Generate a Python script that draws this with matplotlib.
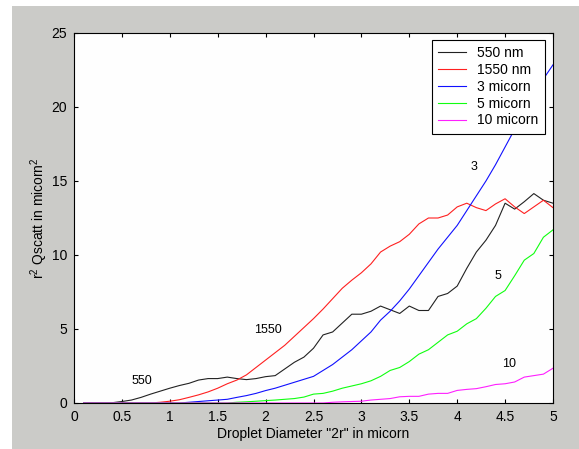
import matplotlib
matplotlib.use("Agg")
import matplotlib.pyplot as plt
from matplotlib.patches import Rectangle

# droplet diameter 2r (micron)
diam = [0.1, 0.2, 0.3, 0.4, 0.5, 0.6, 0.7, 0.8, 0.9, 1.0,
        1.1, 1.2, 1.3, 1.4, 1.5, 1.6, 1.7, 1.8, 1.9, 2.0,
        2.1, 2.2, 2.3, 2.4, 2.5, 2.6, 2.7, 2.8, 2.9, 3.0,
        3.1, 3.2, 3.3, 3.4, 3.5, 3.6, 3.7, 3.8, 3.9, 4.0,
        4.1, 4.2, 4.3, 4.4, 4.5, 4.6, 4.7, 4.8, 4.9, 5.0]

q_550nm = [0, 0, 0, 0.02, 0.1, 0.2, 0.38, 0.6, 0.8, 1.0,
           1.18, 1.33, 1.55, 1.65, 1.65, 1.75, 1.65, 1.58, 1.65, 1.78,
           1.85, 2.3, 2.75, 3.1, 3.7, 4.6, 4.8, 5.4, 6.0, 6.0,
           6.2, 6.55, 6.3, 6.05, 6.55, 6.25, 6.25, 7.2, 7.4, 7.9,
           9.1, 10.2, 11.0, 12.0, 13.5, 13.1, 13.6, 14.15, 13.7, 13.5]

q_1550nm = [0, 0, 0, 0, 0, 0, 0, 0, 0.05, 0.12,
            0.22, 0.38, 0.55, 0.75, 1.0, 1.3, 1.55, 1.9, 2.4, 2.9,
            3.4, 3.9, 4.5, 5.1, 5.7, 6.35, 7.05, 7.75, 8.3, 8.8,
            9.4, 10.2, 10.6, 10.9, 11.4, 12.1, 12.5, 12.5, 12.7, 13.25,
            13.5, 13.2, 13.0, 13.45, 13.8, 13.25, 12.8, 13.25, 13.7, 13.2]

q_3um = [0, 0, 0, 0, 0, 0, 0, 0, 0, 0,
         0, 0.05, 0.1, 0.15, 0.2, 0.25, 0.38, 0.5, 0.65, 0.84,
         1.0, 1.2, 1.4, 1.6, 1.8, 2.2, 2.6, 3.1, 3.6, 4.2,
         4.8, 5.6, 6.2, 6.9, 7.7, 8.6, 9.5, 10.4, 11.2, 12.0,
         13.0, 14.0, 15.0, 16.1, 17.3, 18.5, 19.7, 20.9, 21.9, 22.85]

q_5um = [0, 0, 0, 0, 0, 0, 0, 0, 0, 0,
         0, 0, 0, 0, 0, 0, 0.05, 0.08, 0.12, 0.16,
         0.2, 0.25, 0.3, 0.4, 0.6, 0.65, 0.8, 1.0, 1.15, 1.3,
         1.5, 1.8, 2.2, 2.4, 2.8, 3.3, 3.6, 4.1, 4.6, 4.85,
         5.35, 5.7, 6.4, 7.2, 7.6, 8.6, 9.65, 10.1, 11.2, 11.7]

q_10um = [0, 0, 0, 0, 0, 0, 0, 0, 0, 0,
          0, 0, 0, 0, 0, 0, 0, 0, 0, 0,
          0, 0, 0, 0, 0, 0, 0.05, 0.08, 0.1, 0.12,
          0.2, 0.25, 0.3, 0.42, 0.45, 0.45, 0.6, 0.65, 0.65, 0.85,
          0.92, 0.97, 1.1, 1.25, 1.3, 1.42, 1.75, 1.85, 1.95, 2.35]

legend_labels = ["550 nm", "1550 nm", "3 micorn", "5 micorn", "10 micorn"]
curve_notes = ["550", "1550", "3", "5", "10"]
note_x = [0.71, 2.02, 4.18, 4.43, 4.54]
note_y = [1.47, 4.95, 15.97, 8.6, 2.64]

plt.rcParams['font.family'] = ['Liberation Sans', 'DejaVu Sans']
plt.rcParams['mathtext.fontset'] = 'custom'
plt.rcParams['mathtext.rm'] = 'Liberation Sans'

fig = plt.figure(figsize=(5.79, 4.49), dpi=100, facecolor='white')
# grey matlab window background
fig.patches.append(Rectangle((12 / 579, 0), 1, 1 - 6 / 449, transform=fig.transFigure,
                             facecolor='#cbcbc8', edgecolor='none', zorder=-10))

ax = fig.add_axes([74 / 579, 46 / 449, 479 / 579, 370 / 449])
ax.set_facecolor('#fefefe')

lw = 0.8
ax.plot(diam, q_550nm, color='#222222', lw=lw, label=legend_labels[0])
ax.plot(diam, q_1550nm, color='#ff2020', lw=lw, label=legend_labels[1])
ax.plot(diam, q_3um, color='#1010ff', lw=lw, label=legend_labels[2])
ax.plot(diam, q_5um, color='#10ff10', lw=lw, label=legend_labels[3])
ax.plot(diam, q_10um, color='#ff20ff', lw=lw, label=legend_labels[4])

for t, x, y in zip(curve_notes, note_x, note_y):
    ax.text(x, y, t, fontsize=9, ha='center', va='center')

ax.set_xlim(0, 5)
ax.set_ylim(0, 25)
ax.set_xticks([0, 0.5, 1, 1.5, 2, 2.5, 3, 3.5, 4, 4.5, 5])
ax.set_xticklabels(["0", "0.5", "1", "1.5", "2", "2.5", "3", "3.5", "4", "4.5", "5"])
ax.set_yticks([0, 5, 10, 15, 20, 25])
ax.tick_params(direction='in', length=3, width=0.8, top=True, right=True,
               labelsize=10, pad=5)
for s in ax.spines.values():
    s.set_linewidth(0.8)

ax.set_xlabel('Droplet Diameter "2r" in micorn', fontsize=10, labelpad=2)
ax.set_ylabel(r'r$^\mathregular{2}$ Qscatt in micorn$^\mathregular{2}$', fontsize=10, labelpad=1)

leg = ax.legend(loc='upper right', bbox_to_anchor=(0.983, 0.981), borderaxespad=0,
                fancybox=False, fontsize=10, handlelength=2.0, handletextpad=0.8,
                labelspacing=0.2, borderpad=0.45, framealpha=1)
leg.get_frame().set_edgecolor('black')
leg.get_frame().set_linewidth(0.8)

fig.savefig('out.png', dpi=100, facecolor=fig.get_facecolor())
